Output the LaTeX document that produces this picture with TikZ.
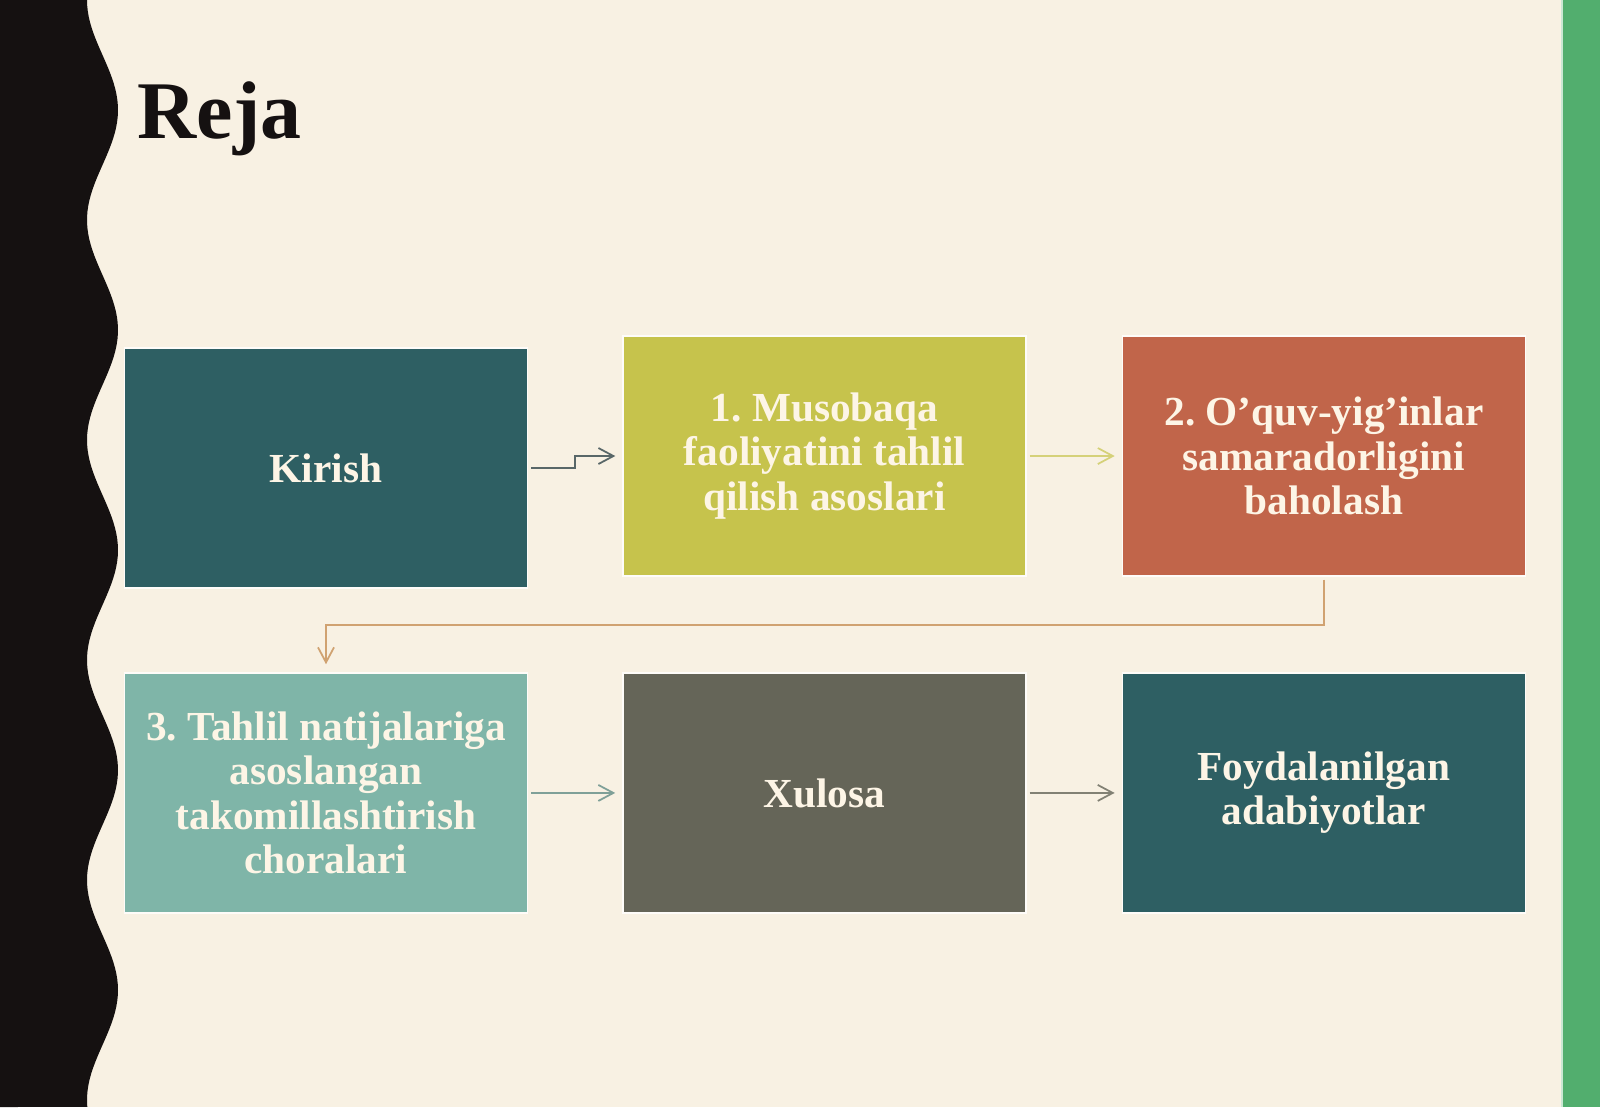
\documentclass[tikz,border=0pt]{standalone}
\usepackage{fontspec}
\setmainfont{Liberation Serif}
\usepackage{tikz}
\usetikzlibrary{arrows.meta,positioning,calc}
\usepackage{xcolor}
\frenchspacing

\definecolor{paper}{HTML}{F8F1E3}
\definecolor{ink}{HTML}{151111}
\definecolor{stripe}{HTML}{52AE6E}
\definecolor{tealdark}{HTML}{2E5F63}
\definecolor{olivebox}{HTML}{C6C34C}
\definecolor{terra}{HTML}{C1654A}
\definecolor{tealight}{HTML}{7FB5A8}
\definecolor{slatebox}{HTML}{656558}
\definecolor{boxtext}{HTML}{FDF5E6}

\begin{document}
\begin{tikzpicture}[
    box/.style={rectangle, draw=white!80!paper, line width=0.4pt, minimum width=4.03cm, minimum height=2.40cm, text centered, align=center, text=boxtext, font=\fontsize{11.75}{12.6}\selectfont\bfseries},
    arrow/.style={-{Straight Barb[length=1.5mm,width=1.6mm]}, line width=0.5pt},
    title/.style={font=\fontsize{23.3}{27}\selectfont\bfseries, text=ink, inner sep=0pt}
]
\useasboundingbox (0,0) rectangle (16,-11.07);

% Page background
\fill[paper] (0,0) rectangle (16,-11.07);
\fill[stripe] (15.62,0) rectangle (16,-11.07);
\draw[white!70!stripe, line width=0.6pt] (15.62,0) -- (15.62,-11.07);
\fill[ink] (0,0) -- plot[domain=0:11.07, samples=200] ({1.025-0.155*cos(deg(2*pi*\x/2.2))}, -\x) -- (0,-11.07) -- cycle;

% Title
\node[title, anchor=base west] (reja) at (1.37,-1.38) {Reja};

% Top row
\node[box, fill=tealdark] (kirish) at (3.26,-4.68) {Kirish};
\node[box, fill=olivebox] (musobaqa) at (8.245,-4.56) {1. Musobaqa\\faoliyatini tahlil\\qilish asoslari};
\node[box, fill=terra, right=0.95cm of musobaqa] (samara) {2. O’quv-yig’inlar\\samaradorligini\\baholash};

% Bottom row
\node[box, fill=tealight, below=0.835cm of kirish] (tahlil) {3. Tahlil natijalariga\\asoslangan\\takomillashtirish\\choralari};
\node[box, fill=slatebox, right=0.94cm of tahlil] (xulosa) {Xulosa};
\node[box, fill=tealdark, right=0.95cm of xulosa] (adabiyot) {Foydalanilgan\\adabiyotlar};

% Arrows between boxes
\draw[arrow, color=black!60!tealdark!70] ([xshift=0.03cm]kirish.east) -- ++(0.44,0) |- ([xshift=-0.07cm]musobaqa.west);
\draw[arrow, color=olivebox!70!paper] ([xshift=0.03cm]musobaqa.east) -- ([xshift=-0.07cm]samara.west);
\draw[arrow, color=brown!70!paper] ([yshift=-0.03cm]samara.south) -- ++(0,-0.45) -| ([yshift=0.08cm]tahlil.north);
\draw[arrow, color=tealight!60!gray] ([xshift=0.03cm]tahlil.east) -- ([xshift=-0.07cm]xulosa.west);
\draw[arrow, color=slatebox!80!paper] ([xshift=0.03cm]xulosa.east) -- ([xshift=-0.07cm]adabiyot.west);

\end{tikzpicture}
\end{document}
